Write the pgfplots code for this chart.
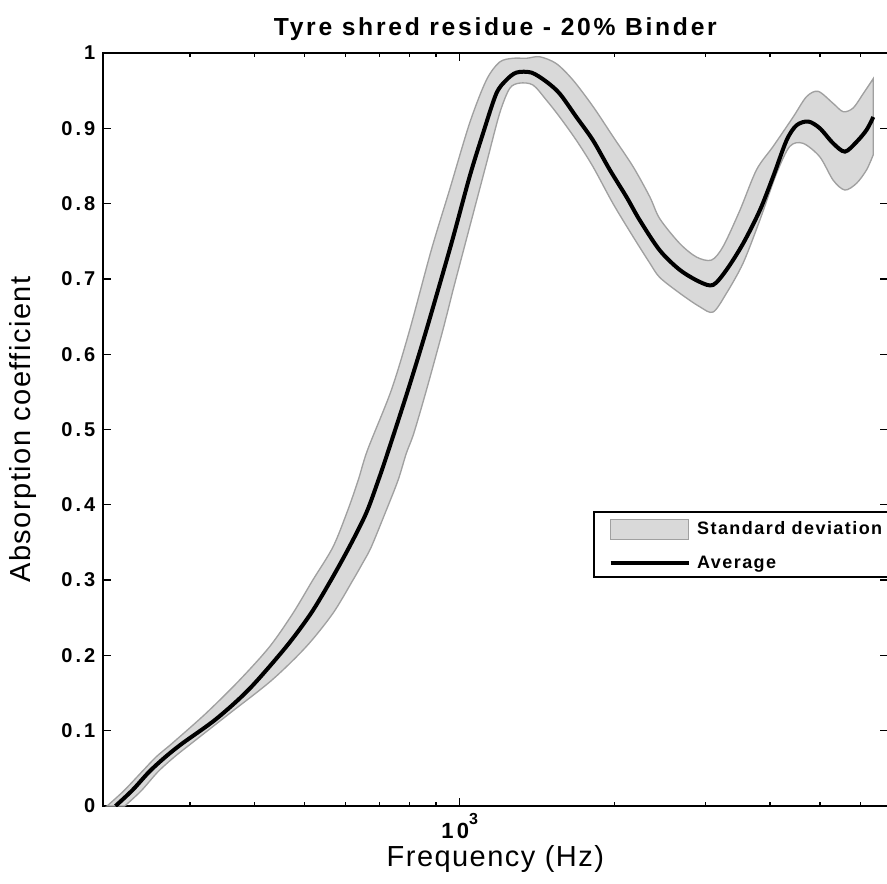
\documentclass[border=0pt]{standalone}
\usepackage{fontspec}
\setmainfont{Liberation Sans}
\newfontfamily\titlefont[LetterSpace=11]{Liberation Sans}
\newfontfamily\tickfont[LetterSpace=15]{Liberation Sans}
\newfontfamily\labfont[LetterSpace=5]{Liberation Sans}
\newfontfamily\legfont[LetterSpace=8]{Liberation Sans}
\usepackage{pgfplots}
\pgfplotsset{compat=1.18}
\usepgfplotslibrary{fillbetween}
\definecolor{bandfill}{RGB}{217,217,217}
\definecolor{bandedge}{RGB}{160,160,160}
\newcommand{\tenthree}{\hbox{\tickfont\bfseries\fontsize{16.5pt}{18pt}\selectfont 10\raise 0.6em\hbox{\fontsize{12pt}{13pt}\selectfont 3}}}
\begin{document}
\begin{tikzpicture}
\begin{axis}[
  at={(77pt,57.75pt)}, anchor=south west,
  scale only axis, width=589pt, height=564.75pt,
  xmode=log, xmin=203, xmax=6780, ymin=0, ymax=1,
  axis line style={line width=1.5pt},
  tick align=inside,
  major tick length=6pt, minor tick length=3pt,
  every tick/.style={black, line width=1pt},
  xtick={1000},
  xticklabels={\tenthree},
  minor xtick={300,400,500,600,700,800,900,2000,3000,4000,5000,6000},
  ytick={0,0.1,0.2,0.3,0.4,0.5,0.6,0.7,0.8,0.9,1},
  yticklabels={0,0.1,0.2,0.3,0.4,0.5,0.6,0.7,0.8,0.9,1},
  yticklabel style={font=\tickfont\bfseries\fontsize{15pt}{17pt}\selectfont, xshift=-2pt},
  xticklabel style={font=\tickfont\bfseries\fontsize{16.5pt}{18pt}\selectfont, anchor=base, yshift=-24pt},
  every axis title shift=0pt,
  title={Tyre shred residue - 20\% Binder},
  title style={font=\titlefont\bfseries\fontsize{18.5pt}{21pt}\selectfont, at={(axis description cs:0.5,1.0239)}, anchor=base},
  xlabel={Frequency (Hz)},
  ylabel={Absorption coefficient},
  xlabel style={font=\labfont\fontsize{21.75pt}{24pt}\selectfont, at={(axis description cs:0.5,-0.080)}, anchor=base},
  ylabel style={font=\labfont\fontsize{21.75pt}{24pt}\selectfont, at={(axis description cs:-0.0913,0.5)}, anchor=base},
  legend style={
    at={(0.6244,0.3918)}, anchor=north west,
    draw=black, line width=1.2pt,
    inner xsep=11pt, inner ysep=5.2pt,
    nodes={inner sep=0pt},
    column sep=5pt, row sep=11.7pt,
    font=\legfont\bfseries\fontsize{13.5pt}{16pt}\selectfont,
    cells={anchor=west},
  },
  legend cell align=left,
]
\addplot[name path=U, draw=none, forget plot, smooth] coordinates {
(207,0) (223,0.02) (242,0.0456) (258,0.0655) (277,0.0833) (322,0.123) (374,0.167) (428,0.2116)
(475,0.256) (519,0.300) (568,0.344) (607,0.393) (636,0.433) (663,0.473)
(737,0.552) (800,0.632) (881,0.738) (956,0.818) (1046,0.907) (1127,0.964)
(1196,0.988) (1269,0.993) (1348,0.993) (1430,0.995) (1540,0.986) (1660,0.964)
(1815,0.929) (1985,0.889) (2171,0.849) (2339,0.809) (2445,0.780)
(2674,0.747) (2882,0.729) (3081,0.725) (3245,0.743) (3498,0.791) (3769,0.845)
(4059,0.876) (4438,0.915) (4711,0.942) (4964,0.949) (5307,0.933) (5550,0.922)
(5803,0.927) (6069,0.946) (6349,0.966)
};
\addplot[name path=L, draw=none, forget plot, smooth] coordinates {
(224,0) (241,0.02) (260,0.0456) (280,0.0655) (302,0.0833) (358,0.123) (432,0.167) (504,0.2116)
(568,0.256) (621,0.300) (649,0.323) (674,0.344) (721,0.393) (760,0.433) (788,0.468) (815,0.495)
(862,0.552) (928,0.632) (971,0.685) (1046,0.769) (1127,0.853) (1196,0.920) (1251,0.953)
(1308,0.960) (1388,0.9575) (1473,0.9376) (1564,0.915) (1685,0.884) (1815,0.849)
(1985,0.800) (2171,0.756) (2339,0.721) (2445,0.702) (2674,0.681) (2924,0.663)
(3104,0.656) (3295,0.681) (3549,0.721) (3824,0.778) (4120,0.840) (4372,0.876)
(4640,0.880) (5000,0.862) (5307,0.831) (5592,0.818) (5892,0.827) (6163,0.845)
(6349,0.865)
};
\addplot[fill=bandfill, draw=bandedge, line width=1pt,
  legend image code/.code={\draw[fill=bandfill, draw=bandedge, line width=1pt] (0pt,-7.5pt) rectangle (58.5pt,7.5pt);}]
  fill between[of=U and L];
\addlegendentry{\makebox[150pt][l]{Standard deviation}}
\addplot[black, line width=3pt, smooth,
  legend image code/.code={\draw[black, line width=3pt] (0pt,0pt) -- (58.5pt,0pt);}] coordinates {
(215,0) (232,0.0212) (250,0.0456) (269,0.0655) (290,0.0833) (337,0.1155) (391,0.1555) (461,0.2116)
(515,0.256) (563,0.300) (611,0.344) (659,0.389) (696,0.433) (726,0.470)
(794,0.552) (862,0.632) (964,0.747) (1046,0.836) (1110,0.893) (1178,0.946)
(1232,0.964) (1289,0.974) (1378,0.974) (1473,0.962) (1564,0.946) (1685,0.915)
(1815,0.884) (1956,0.845) (2107,0.809) (2236,0.778) (2445,0.738)
(2674,0.712) (2924,0.696) (3104,0.692) (3295,0.712) (3549,0.747) (3824,0.791)
(4059,0.836) (4309,0.884) (4506,0.904) (4748,0.909) (5000,0.900) (5307,0.880)
(5592,0.869) (5892,0.882) (6163,0.898) (6349,0.915)
};
\addlegendentry{Average}
\end{axis}
\pgfresetboundingbox
\path[use as bounding box] (0,0) rectangle (665.25pt,662.25pt);
\end{tikzpicture}
\end{document}
